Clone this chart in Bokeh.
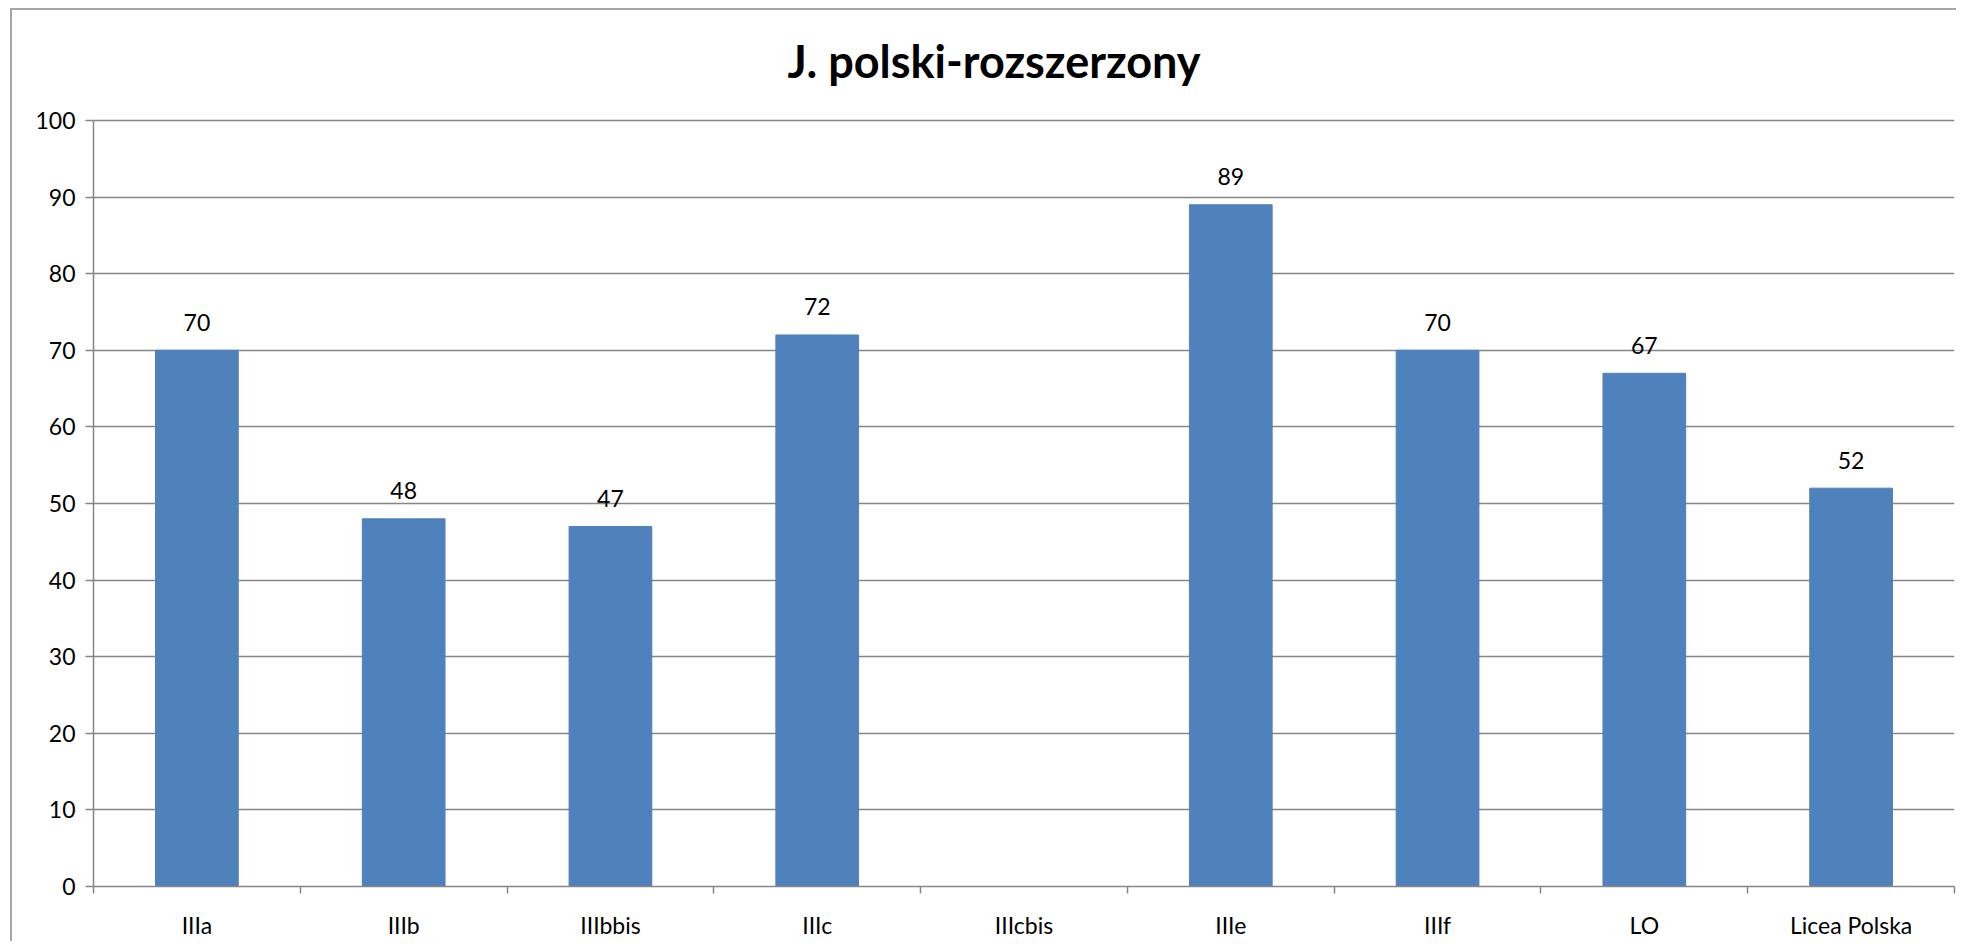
from bokeh.plotting import figure
from bokeh.models import ColumnDataSource, FixedTicker, Range1d, Label
from bokeh.core.properties import value
from bokeh.embed import file_html
from bokeh.resources import INLINE

categories = ["IIIa", "IIIb", "IIIbbis", "IIIc", "IIIcbis", "IIIe", "IIIf", "LO", "Licea Polska"]
scores = [70, 48, 47, 72, None, 89, 70, 67, 52]
y_ticks = [0, 10, 20, 30, 40, 50, 60, 70, 80, 90, 100]
title_text = "J. polski-rozszerzony"

FONT = "Lato"
GRID = "#868686"
PLOT_H = 766      # pixel height of the 0..100 value area
EXTRA_H = 90      # pixels above the value area used for the title

centers = [i + 0.5 for i in range(len(categories))]
bounds = [float(i) for i in range(len(categories) + 1)]
tops = [v if v is not None else float("nan") for v in scores]
labels = [str(v) if v is not None else "" for v in scores]

src = ColumnDataSource(dict(x=centers, top=tops, lab=labels))

ymax = y_ticks[-1]
units_per_px = ymax / PLOT_H
p = figure(width=1948, height=931, output_backend="svg", toolbar_location=None,
           x_range=Range1d(0, len(categories)),
           y_range=Range1d(0, ymax + EXTRA_H * units_per_px),
           frame_width=1861, frame_height=PLOT_H + EXTRA_H,
           min_border_left=81, min_border_right=2, min_border_top=110 - EXTRA_H,
           min_border_bottom=53)
p.styles = {"border-left": "2px solid #a6a6a6", "border-top": "2px solid #a6a6a6",
            "margin-left": "10px", "margin-top": "8px"}

# chart title, 60px above the top of the value area
title = Label(x=len(categories) / 2, y=ymax + 60 * units_per_px, x_offset=-30,
              text=title_text, text_align="center", text_baseline="middle",
              text_font=FONT, text_font_size="45px", text_font_style="bold",
              text_color="black")
p.add_layout(title)

p.vbar(x="x", top="top", width=0.4, bottom=0, source=src, color="#4F81BD")
p.text(x="x", y="top", text="lab", source=src, text_align="center", text_baseline="middle",
       y_offset=-28, text_font=value(FONT), text_font_size="23px", text_color="black")

p.outline_line_color = None
p.xgrid.grid_line_color = None
p.ygrid.grid_line_color = GRID
p.ygrid.grid_line_width = 1.5
p.ygrid.ticker = FixedTicker(ticks=y_ticks)

p.yaxis.ticker = FixedTicker(ticks=y_ticks)
p.yaxis.bounds = (0, ymax)
p.yaxis.axis_line_color = GRID
p.yaxis.axis_line_width = 1.5
p.yaxis.major_tick_line_color = GRID
p.yaxis.major_tick_line_width = 1.5
p.yaxis.major_tick_in = 0
p.yaxis.major_tick_out = 8
p.yaxis.minor_tick_line_color = None
p.yaxis.major_label_text_font = FONT
p.yaxis.major_label_text_font_size = "23px"
p.yaxis.major_label_text_color = "black"
p.yaxis.major_label_standoff = 10

p.xaxis.ticker = FixedTicker(ticks=centers, minor_ticks=bounds)
p.xaxis.major_label_overrides = {c: n for c, n in zip(centers, categories)}
p.xaxis.axis_line_color = GRID
p.xaxis.axis_line_width = 1.5
p.xaxis.major_tick_line_color = None
p.xaxis.minor_tick_line_color = GRID
p.xaxis.minor_tick_line_width = 1.5
p.xaxis.minor_tick_in = 0
p.xaxis.minor_tick_out = 7
p.xaxis.major_label_text_font = FONT
p.xaxis.major_label_text_font_size = "23px"
p.xaxis.major_label_text_color = "black"
p.xaxis.major_label_standoff = 17

open("out.html", "w").write(file_html(p, INLINE))
